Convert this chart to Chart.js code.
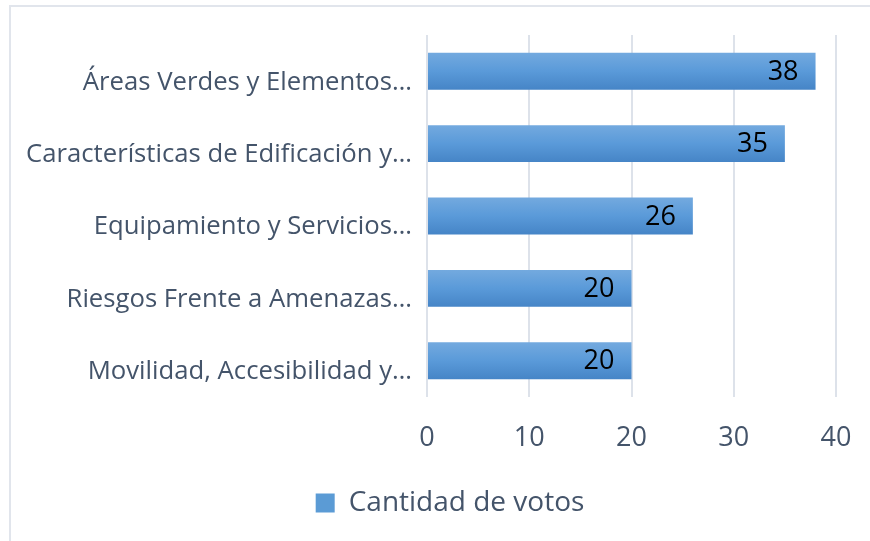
<!DOCTYPE html>
<html>
<head>
<meta charset="utf-8">
<script src="https://cdn.jsdelivr.net/npm/chart.js@4"></script>
<style>
  html, body { margin: 0; padding: 0; background: #fff; }
  #wrap { position: relative; width: 870px; height: 541px; }
  #frame { position: absolute; left: 9px; top: 5px; right: 0; bottom: 0;
           border-top: 2px solid #e1e5ec; border-left: 2px solid #e1e5ec; }
  canvas { position: absolute; left: 0; top: 0; }
</style>
</head>
<body>
<div id="wrap">
  <div id="frame"></div>
  <canvas id="grafico" width="870" height="541"></canvas>
</div>
<script>
const categorias = [
  'Áreas Verdes y Elementos…',
  'Características de Edificación y…',
  'Equipamiento y Servicios…',
  'Riesgos Frente a Amenazas…',
  'Movilidad, Accesibilidad y…'
];
const votos = [38, 35, 26, 20, 20];
const ticksX = [0, 10, 20, 30, 40];

const colorTexto = '#44546a';
const fuente = '"Open Sans", Lato, sans-serif';

// degradado vertical de cada barra
function degradado(ctx) {
  const chart = ctx.chart;
  const y = chart.scales.y;
  if (ctx.type !== 'data' || !y) return '#5b9bd5';
  const c = y.getPixelForValue(ctx.dataIndex);
  if (!isFinite(c)) return '#5b9bd5';
  const g = chart.ctx.createLinearGradient(0, c - 19, 0, c + 19);
  g.addColorStop(0, '#74aadf');
  g.addColorStop(0.5, '#5a9ad9');
  g.addColorStop(1, '#4584c6');
  return g;
}

// etiquetas de valor dentro del extremo de la barra
const etiquetas = {
  id: 'etiquetas',
  afterLayout(chart) {
    // centrar la leyenda un poco mas a la derecha, como en el original
    chart.legend.left += 32;
    chart.legend.right += 32;
  },
  afterDatasetsDraw(chart) {
    const ctx = chart.ctx;
    const meta = chart.getDatasetMeta(0);
    ctx.save();
    ctx.font = '27px ' + fuente;
    ctx.fillStyle = '#000';
    ctx.textAlign = 'right';
    ctx.textBaseline = 'middle';
    meta.data.forEach((bar, i) => {
      ctx.fillText(String(votos[i]), bar.x - 17, bar.y + 1);
    });
    ctx.restore();
  }
};

new Chart(document.getElementById('grafico'), {
  type: 'bar',
  data: {
    labels: categorias,
    datasets: [{
      label: 'Cantidad de votos',
      data: votos,
      backgroundColor: degradado,
      borderWidth: 0,
      categoryPercentage: 1,
      barPercentage: 0.51
    }]
  },
  options: {
    indexAxis: 'y',
    responsive: false,
    animation: false,
    events: [],
    layout: { padding: { top: 35, right: 34, left: 0, bottom: 14 } },
    scales: {
      x: {
        min: 0,
        max: 40,
        afterBuildTicks: (s) => { s.ticks = ticksX.map(v => ({ value: v })); },
        afterFit: (s) => { s.height = 82; s.paddingLeft = 0; s.paddingRight = 0; },
        grid: { color: '#dde2ea', lineWidth: 2, drawTicks: false },
        border: { display: false },
        ticks: { color: colorTexto, font: { family: fuente, size: 27 }, padding: 25 }
      },
      y: {
        afterFit: (s) => { s.width = 427; },
        grid: { display: false },
        border: { display: false },
        ticks: { color: colorTexto, font: { family: fuente, size: 25.7 }, padding: 7, labelOffset: 11, autoSkip: false }
      }
    },
    plugins: {
      legend: {
        position: 'bottom',
        labels: {
          color: colorTexto,
          font: { family: fuente, size: 28 },
          boxWidth: 19,
          boxHeight: 19,
          padding: 10,
          generateLabels: (chart) =>
            Chart.defaults.plugins.legend.labels.generateLabels(chart)
              .map(l => Object.assign(l, { fillStyle: '#5b9bd5', lineWidth: 0 }))
        }
      },
      tooltip: { enabled: false }
    }
  },
  plugins: [etiquetas]
});
</script>
</body>
</html>
